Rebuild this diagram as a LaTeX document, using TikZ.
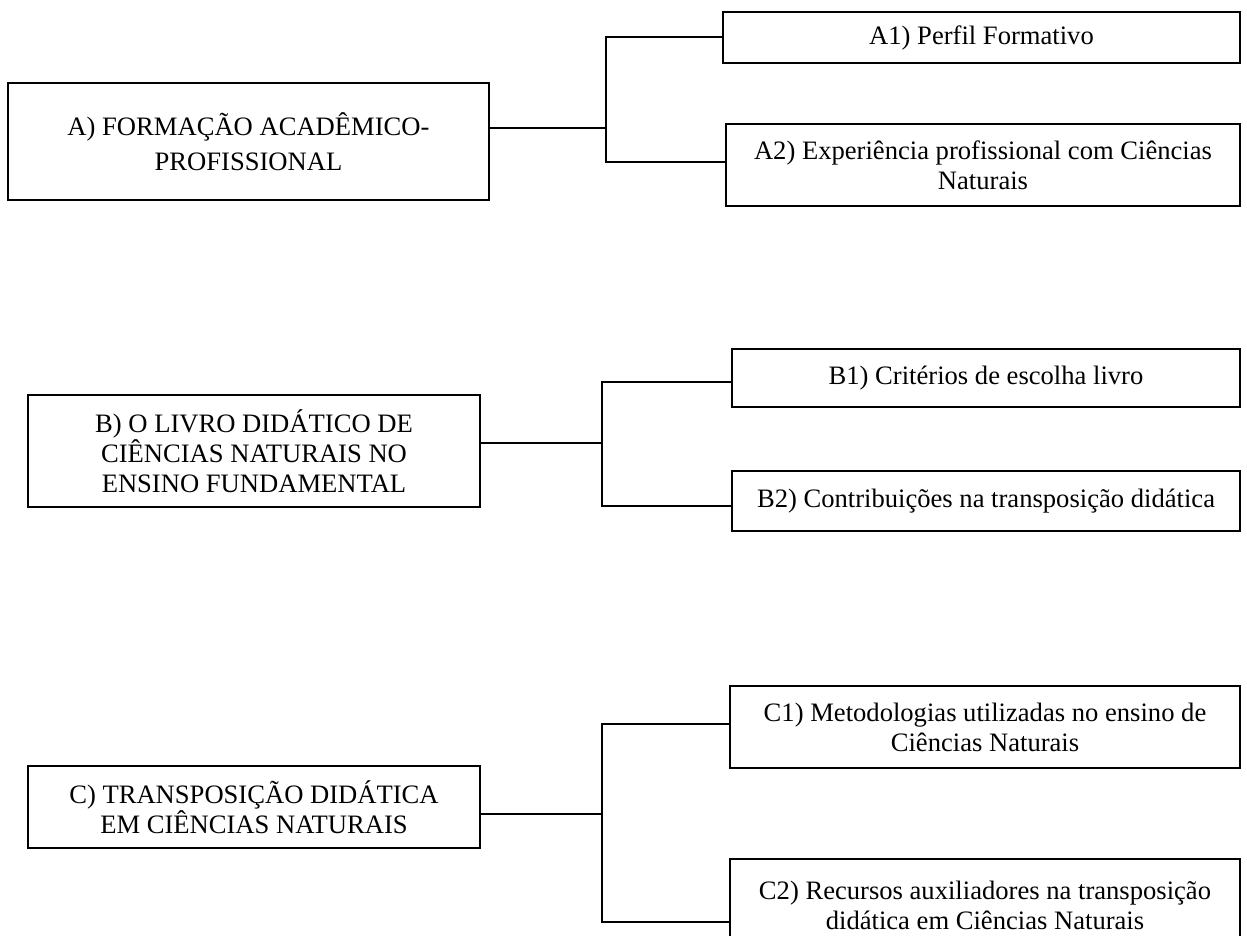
\documentclass[tikz,border=0pt]{standalone}
\usepackage{fontspec}
\setmainfont{Liberation Serif}
\begin{document}
\begin{tikzpicture}[x=1pt,y=-1pt,
  box/.style={draw=black, line width=1.7pt, align=center, inner sep=0pt,
              font=\fontsize{26.6}{30}\selectfont},
  conn/.style={draw=black, line width=1.7pt, line cap=rect}]
\clip (0,0) rectangle (1247,936);
\fill[white] (0,0) rectangle (1247,936);

% ---- A ----
\node[box, minimum width=481pt, minimum height=117pt, font=\fontsize{26.6}{35}\selectfont] (A) at (248.5,141.5)
  {A) FORMAÇÃO ACADÊMICO-\\PROFISSIONAL};
\node[box, minimum width=517pt, minimum height=51pt] (A1) at (981.5,37.5)
  {A1) Perfil Formativo};
\node[box, minimum width=514pt, minimum height=82pt] (A2) at (983,165)
  {A2) Experiência profissional com Ciências\\Naturais};
\coordinate (jA) at (606,128);
\coordinate (tA1) at (606,37);
\coordinate (tA2) at (606,162);
\draw[conn] (A.east |- jA) -- (jA);
\draw[conn] (A1.west |- tA1) -- (tA1) -- (tA2) -- (A2.west |- tA2);

% ---- B ----
\node[box, minimum width=452pt, minimum height=112pt] (B) at (254,451)
  {B) O LIVRO DIDÁTICO DE\\CIÊNCIAS NATURAIS NO\\ENSINO FUNDAMENTAL};
\node[box, minimum width=508pt, minimum height=58pt] (B1) at (986,378)
  {B1) Critérios de escolha livro};
\node[box, minimum width=508pt, minimum height=60pt] (B2) at (986,501)
  {B2) Contribuições na transposição didática};
\coordinate (jB) at (602,443);
\coordinate (tB1) at (602,382);
\coordinate (tB2) at (602,506);
\draw[conn] (B.east |- jB) -- (jB);
\draw[conn] (B1.west |- tB1) -- (tB1) -- (tB2) -- (B2.west |- tB2);

% ---- C ----
\node[box, minimum width=452pt, minimum height=82pt] (C) at (254,807)
  {C) TRANSPOSIÇÃO DIDÁTICA\\EM CIÊNCIAS NATURAIS};
\node[box, minimum width=510pt, minimum height=82pt] (C1) at (985,727)
  {C1) Metodologias utilizadas no ensino de\\Ciências Naturais};
\node[box, minimum width=510pt, minimum height=92pt] (C2) at (985,905)
  {C2) Recursos auxiliadores na transposição\\didática em Ciências Naturais};
\coordinate (jC) at (602,814);
\coordinate (tC1) at (602,724);
\coordinate (tC2) at (602,922);
\draw[conn] (C.east |- jC) -- (jC);
\draw[conn] (C1.west |- tC1) -- (tC1) -- (tC2) -- (C2.west |- tC2);
\end{tikzpicture}
\end{document}
